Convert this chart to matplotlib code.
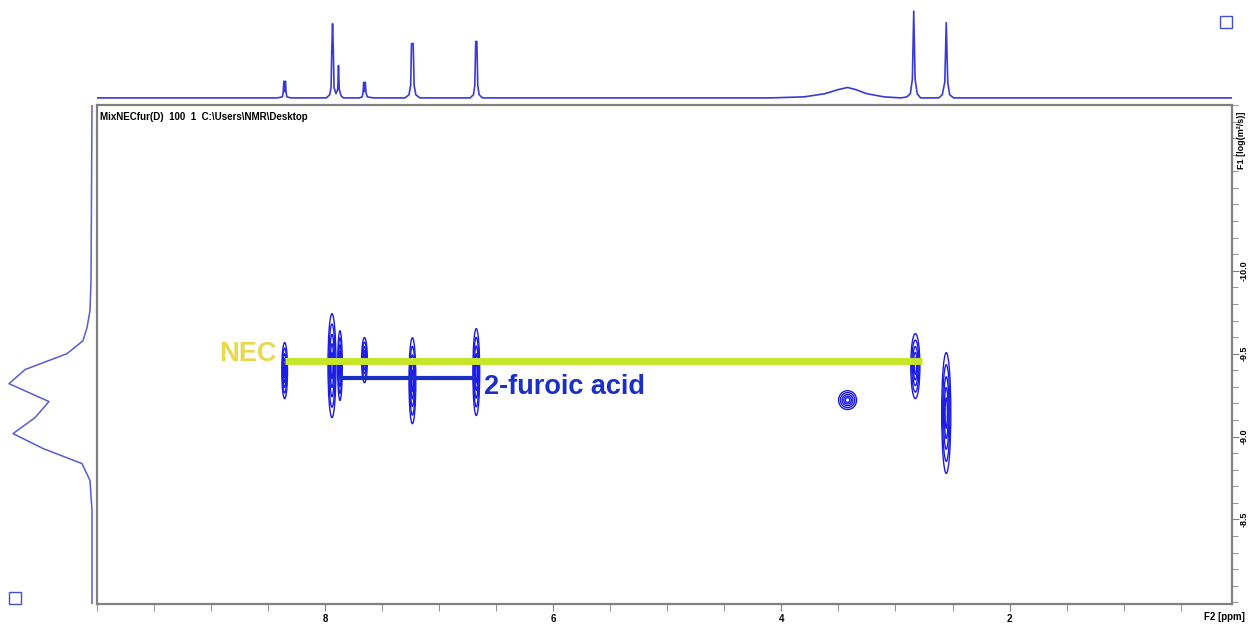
import numpy as np
import matplotlib.pyplot as plt
from matplotlib.patches import Ellipse
from matplotlib.ticker import MultipleLocator

plt.rcParams['font.family'] = ['Liberation Sans', 'DejaVu Sans']

# ---- top 1D trace (F2 projection), ppm vs intensity
top_ppm = [10.0, 8.42, 8.375, 8.368, 8.362, 8.355, 8.348, 8.342, 8.335, 8.30,
           7.99, 7.96, 7.948, 7.942, 7.935, 7.928, 7.922, 7.905, 7.89, 7.883, 7.876, 7.86, 7.84,
           7.70, 7.675, 7.668, 7.662, 7.655, 7.648, 7.642, 7.63, 7.58,
           7.30, 7.265, 7.25, 7.243, 7.228, 7.22, 7.205, 7.17,
           6.73, 6.70, 6.688, 6.68, 6.67, 6.662, 6.65, 6.62,
           4.10, 3.80, 3.62, 3.50, 3.42, 3.35, 3.25, 3.10, 2.95,
           2.90, 2.87, 2.852, 2.84, 2.828, 2.81, 2.78,
           2.62, 2.59, 2.568, 2.555, 2.542, 2.525, 2.49, 0.05]
top_int = [0, 0, 1, 5, 16, 6, 16, 5, 1, 0,
           0, 3, 10, 45, 71, 45, 10, 4, 8, 31, 8, 2, 0,
           0, 1, 5, 15, 6, 15, 5, 1, 0,
           0, 3, 12, 52, 52, 12, 3, 0,
           0, 3, 12, 54, 54, 12, 3, 0,
           0, 1, 4, 8, 10, 8, 4, 1, 0,
           1, 4, 18, 83, 18, 4, 0,
           0, 3, 15, 72, 15, 3, 0, 0]

# ---- left 1D trace (F1 projection)
left_f1 = [-11.0, -9.94, -9.759, -9.657, -9.578, -9.50, -9.404, -9.319, -9.211,
           -9.114, -9.018, -8.928, -8.837, -8.735, -8.554, -7.99]
left_int = [0, 1, 2, 5, 9, 25, 67, 83, 43, 57, 79, 49, 10, 2, 0, 0]

# ---- DOSY cross peaks: F2 centre, F1 centre, half widths
pk_ppm = [8.355, 7.94, 7.87, 7.655, 7.235, 6.675, 3.42, 2.826, 2.555]
pk_f1 = [-9.398, -9.428, -9.428, -9.461, -9.337, -9.389, -9.22, -9.425, -9.142]
pk_wx = [0.025, 0.035, 0.02, 0.025, 0.03, 0.03, 0.079, 0.04, 0.04]
pk_wy = [0.169, 0.313, 0.21, 0.136, 0.259, 0.262, 0.057, 0.196, 0.364]

# ---- annotation lines
nec_f1 = -9.458
nec_ppm = [8.355, 2.77]
fur_f1 = -9.355
fur_ppm = [7.90, 6.675]

W, H = 1248, 626
fig = plt.figure(figsize=(W / 100, H / 100), dpi=100)

def frac(x0, y0, x1, y1):
    return [x0 / W, 1 - y1 / H, (x1 - x0) / W, (y1 - y0) / H]

frame_col = '#808080'
blue = '#1c1ce6'

# main 2D axes
ax = fig.add_axes(frac(97, 105, 1232, 604))
ax.set_xlim(10.0, 0.05)
ax.set_ylim(-7.99, -11.0)
for s in ax.spines.values():
    s.set_color(frame_col)
    s.set_linewidth(1.6)

scales = [1.0, 0.8, 0.6, 0.42, 0.25]
for x, y, wx, wy in zip(pk_ppm, pk_f1, pk_wx, pk_wy):
    for k in scales:
        ax.add_patch(Ellipse((x, y), 2 * wx * k, 2 * wy * k, fill=False,
                             ec=blue, lw=1.0))

ax.plot(nec_ppm, [nec_f1, nec_f1], color='#c6e62a', lw=5, solid_capstyle='butt')
ax.plot(fur_ppm, [fur_f1, fur_f1], color='#1a2fc8', lw=3, solid_capstyle='butt')
ax.text(8.43, -9.50, 'NEC', color='#e8d84c', fontsize=19.5, fontweight='bold',
        ha='right', va='center')
ax.text(6.605, -9.30, '2-furoic acid', color='#1a2fc8', fontsize=19.5,
        fontweight='bold', ha='left', va='center')
ax.text(0.003, 0.985, r'MixNECfur(D)  100  1  C:\Users\NMR\Desktop',
        transform=ax.transAxes, fontsize=7, fontweight='bold', ha='left', va='top')

ax.xaxis.set_major_locator(MultipleLocator(2))
ax.xaxis.set_minor_locator(MultipleLocator(0.5))
ax.yaxis.set_major_locator(MultipleLocator(0.5))
ax.yaxis.set_minor_locator(MultipleLocator(0.1))
ax.yaxis.tick_right()
ax.tick_params(axis='x', which='major', length=5, color=frame_col, labelsize=7, pad=2)
ax.tick_params(axis='x', which='minor', length=5, color=frame_col)
ax.tick_params(axis='y', which='major', length=5, color=frame_col, labelsize=6.5,
               labelrotation=90, pad=0.5)
ax.tick_params(axis='y', which='minor', length=4, color=frame_col)
ax.set_xticks([8, 6, 4, 2])
ax.set_xticklabels(['8', '6', '4', '2'], fontweight='bold')
ax.set_yticks([-10.0, -9.5, -9.0, -8.5])
ax.set_yticklabels(['-10.0', '-9.5', '-9.0', '-8.5'], fontweight='bold', va='center')
fig.text(1245 / W, 1 - 617 / H, 'F2 [ppm]', fontsize=7, fontweight='bold',
         ha='right', va='center')
fig.text(1242 / W, 1 - 140 / H, 'F1 [log(m²/s)]', fontsize=6.5, fontweight='bold',
         rotation=90, ha='center', va='center')

# top projection
axt = fig.add_axes(frac(97, 8, 1232, 100))
axt.plot(top_ppm, top_int, color='#3a3ad8', lw=1.2)
axt.set_xlim(10.0, 0.05)
axt.set_ylim(-2, 86)
axt.axis('off')

# left projection
axl = fig.add_axes(frac(0, 105, 95, 604))
axl.plot(left_int, left_f1, color='#5a5ad8', lw=1.1)
axl.set_xlim(92, -3)
axl.set_ylim(-7.99, -11.0)
axl.axis('off')

# corner boxes
fig.add_artist(plt.Line2D([1226 / W], [1 - 22 / H], marker='s', ms=9, mfc='white',
                          mec='#4050d0', mew=1, transform=fig.transFigure))
fig.add_artist(plt.Line2D([15 / W], [1 - 598 / H], marker='s', ms=9, mfc='white',
                          mec='#4050d0', mew=1, transform=fig.transFigure))

fig.savefig('out.png', dpi=100)
